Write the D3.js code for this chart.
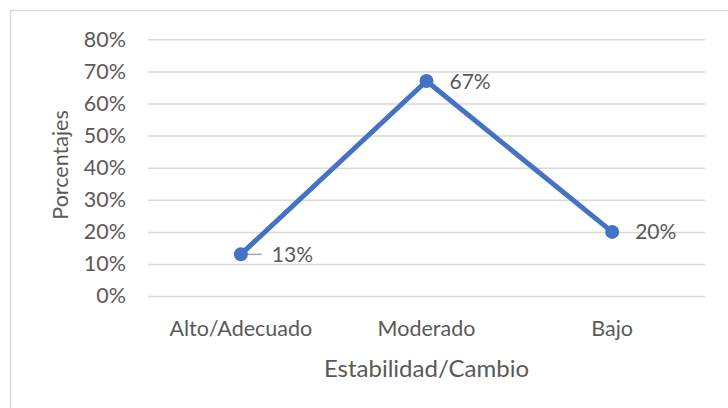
<!DOCTYPE html>
<html>
<head>
<meta charset="utf-8">
<script src="https://cdn.jsdelivr.net/npm/d3@7"></script>
<style>
  html, body { margin: 0; padding: 0; background: #fff; }
  svg { display: block; }
  text { font-family: Lato, "Open Sans", sans-serif; fill: #595959; }
</style>
</head>
<body>
<svg id="chart" width="728" height="408"></svg>
<script>
// Categories and their percentages
const categories = ["Alto/Adecuado", "Moderado", "Bajo"];
const values = [0.13, 0.67, 0.20];
const yTicks = [0, 0.1, 0.2, 0.3, 0.4, 0.5, 0.6, 0.7, 0.8];
const xTitle = "Estabilidad/Cambio";
const yTitle = "Porcentajes";

const svg = d3.select("#chart");
const plot = { left: 148, right: 705, top: 39.3, bottom: 296.1 };
const tickSize = 21.5;
const titleSize = 24;
const labelSize = 21;
const textColor = "#595959";
const gridColor = "#d9d9d9";
const lineColor = "#4472c4";
const fontFamily = "Lato, 'Open Sans', sans-serif";

// Chart frame
svg.append("rect")
  .attr("x", 10.5).attr("y", 10.5)
  .attr("width", 730).attr("height", 410)
  .attr("fill", "#fff")
  .attr("stroke", gridColor).attr("stroke-width", 1.5);

const x = d3.scaleBand().domain(categories).range([plot.left, plot.right]);
const y = d3.scaleLinear().domain([0, 0.8]).range([plot.bottom, plot.top]);
const pct = d3.format(".0%");

// Horizontal gridlines + y tick labels
const yAxis = d3.axisLeft(y).tickValues(yTicks).tickFormat(pct)
  .tickSize(-(plot.right - plot.left)).tickPadding(22);
const gy = svg.append("g").attr("transform", `translate(${plot.left},0)`).call(yAxis);
gy.select(".domain").remove();
gy.selectAll(".tick line").attr("stroke", gridColor).attr("stroke-width", 1.5);
gy.selectAll(".tick text")
  .attr("fill", textColor).attr("font-size", tickSize)
  .attr("font-family", fontFamily);

// Category labels
const xAxis = d3.axisBottom(x).tickSize(0).tickPadding(0);
const gx = svg.append("g").attr("transform", `translate(0,${plot.bottom})`).call(xAxis);
gx.select(".domain").remove();
gx.selectAll(".tick text")
  .attr("dy", null).attr("y", 40)
  .attr("fill", textColor).attr("font-size", tickSize)
  .attr("font-family", fontFamily);

// Axis titles
svg.append("text")
  .attr("x", (plot.left + plot.right) / 2).attr("y", 377)
  .attr("text-anchor", "middle").attr("font-size", titleSize)
  .text(xTitle);
svg.append("text")
  .attr("transform", "translate(68,165) rotate(-90)")
  .attr("text-anchor", "middle").attr("font-size", tickSize)
  .text(yTitle);

const cx = d => x(d) + x.bandwidth() / 2;
const pts = categories.map((c, i) => ({ c, v: values[i] }));

// Line
svg.append("path")
  .datum(pts)
  .attr("fill", "none")
  .attr("stroke", lineColor).attr("stroke-width", 5)
  .attr("stroke-linejoin", "round").attr("stroke-linecap", "round")
  .attr("d", d3.line().x(d => cx(d.c)).y(d => y(d.v)));

// Leader line for the first label
svg.append("line")
  .attr("x1", cx(categories[0])).attr("x2", cx(categories[0]) + 21)
  .attr("y1", y(values[0])).attr("y2", y(values[0]))
  .attr("stroke", "#a6a6a6").attr("stroke-width", 1.5);

// Markers
svg.selectAll("circle.pt").data(pts).join("circle")
  .attr("class", "pt")
  .attr("cx", d => cx(d.c)).attr("cy", d => y(d.v))
  .attr("r", 7).attr("fill", lineColor);

// Value labels
const labelOffset = [31, 23, 23];
svg.selectAll("text.val").data(pts).join("text")
  .attr("class", "val")
  .attr("x", (d, i) => cx(d.c) + labelOffset[i])
  .attr("y", d => y(d.v))
  .attr("dy", "0.36em")
  .attr("font-size", labelSize)
  .text(d => pct(d.v));
</script>
</body>
</html>
